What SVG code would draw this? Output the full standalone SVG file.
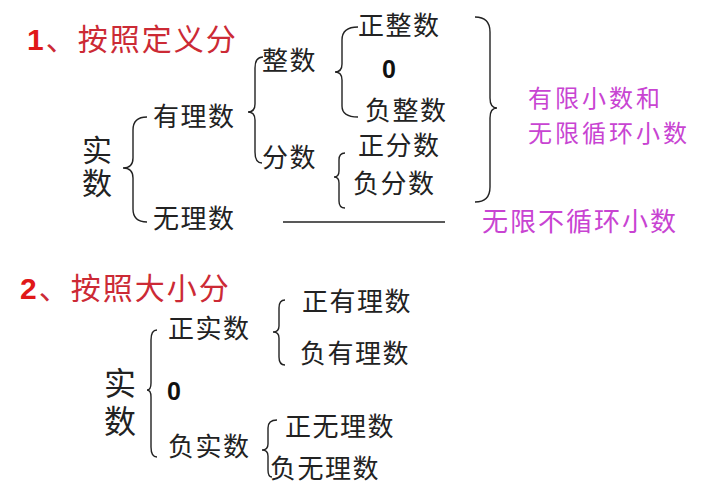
<svg xmlns="http://www.w3.org/2000/svg" width="727" height="503" viewBox="0 0 727 503">
<style>
text{font-family:"Noto Sans CJK SC","Liberation Sans",sans-serif;}
.t{font-size:26px;fill:#222;letter-spacing:1.5px;}
.vert{fill:#222;writing-mode:vertical-rl;}
.zero{font-family:"Liberation Sans",Arial,sans-serif;font-size:25px;font-weight:bold;fill:#111;}
.title{font-size:30px;fill:#CC2A35;letter-spacing:2px;}
.num{font-family:"Liberation Sans",Arial,sans-serif;font-weight:bold;fill:#E01818;}
.mag{font-size:24px;fill:#C844D2;letter-spacing:3px;}
.mag2{font-size:26px;fill:#C844D2;letter-spacing:2px;}
.br{fill:none;stroke:#222;stroke-width:1.4;}
</style>
<rect width="727" height="503" fill="#fff"/>

<g id="title1"><text class="title" x="27" y="50"><tspan class="num">1</tspan>、按照定义分</text></g>

<g id="connectors">
<path class="br" d="M147,117 Q133,117 133,130 L133,158 Q133,168 123,168 Q133,168 133,178 L133,209 Q133,222 147,222"/>
<path class="br" d="M263,57 Q255,57 255,68 L255,104 Q255,112 248,112 Q255,112 255,120 L255,152 Q255,163 262,163"/>
<path class="br" d="M358,27 Q342,27 342,40 L342,64 Q342,72 335,72 Q342,72 342,80 L342,106 Q342,117 358,117"/>
<path class="br" d="M345,153 Q339,153 339,160 L339,171 Q339,177 334,177 Q339,177 339,183 L339,201 Q339,208 345,208"/>
<path class="br" d="M475,17 Q490,17 490,32 L490,98 Q490,108 497,108 Q490,108 490,118 L490,187 Q490,202 475,202"/>
<line x1="283" y1="222" x2="445" y2="222" stroke="#222" stroke-width="1.5"/>
<path class="br" d="M157,330 Q151,330 151,340 L151,383 Q151,390 147,390 Q151,390 151,397 L151,447 Q151,457 157,457"/>
<path class="br" d="M285,300 Q279,300 279,308 L279,326 Q279,332 273,332 Q279,332 279,338 L279,357 Q279,365 285,365"/>
<path class="br" d="M277,420 Q268,420 268,428 L268,444 Q268,450 262,450 Q268,450 268,456 L268,470 Q268,477 272,477"/>
</g>

<g id="shishu1"><text class="vert" x="97" y="135" font-size="30" letter-spacing="3">实数</text></g>
<g id="youlishu"><text class="t" x="153" y="126">有理数</text></g>
<g id="wulishu"><text class="t" x="153" y="228">无理数</text></g>
<g id="zhengshu"><text class="t" x="262" y="70">整数</text></g>
<g id="fenshu"><text class="t" x="262" y="167">分数</text></g>
<g id="zhengzhengshu"><text class="t" x="358" y="35">正整数</text></g>
<g id="zero1"><text class="zero" x="382" y="78">0</text></g>
<g id="fuzhengshu"><text class="t" x="365" y="120">负整数</text></g>
<g id="zhengfenshu"><text class="t" x="358" y="155">正分数</text></g>
<g id="fufenshu"><text class="t" x="353" y="193">负分数</text></g>
<g id="youxian"><text class="mag" x="528" y="107">有限小数和</text><text class="mag" x="528" y="142">无限循环小数</text></g>
<g id="wuxianbuxunhuan"><text class="mag2" x="482" y="231">无限不循环小数</text></g>

<g id="title2"><text class="title" x="20" y="299"><tspan class="num">2</tspan>、按照大小分</text></g>
<g id="shishu2"><text class="vert" x="120" y="367" font-size="32" letter-spacing="6">实数</text></g>
<g id="zhengshishu"><text class="t" x="168" y="338">正实数</text></g>
<g id="zero2"><text class="zero" x="167" y="400">0</text></g>
<g id="fushishu"><text class="t" x="168" y="456">负实数</text></g>
<g id="zhengyoulishu"><text class="t" x="302" y="311">正有理数</text></g>
<g id="fuyoulishu"><text class="t" x="300" y="363">负有理数</text></g>
<g id="zhengwulishu"><text class="t" x="285" y="436">正无理数</text></g>
<g id="fuwulishu"><text class="t" x="270" y="478">负无理数</text></g>
</svg>
